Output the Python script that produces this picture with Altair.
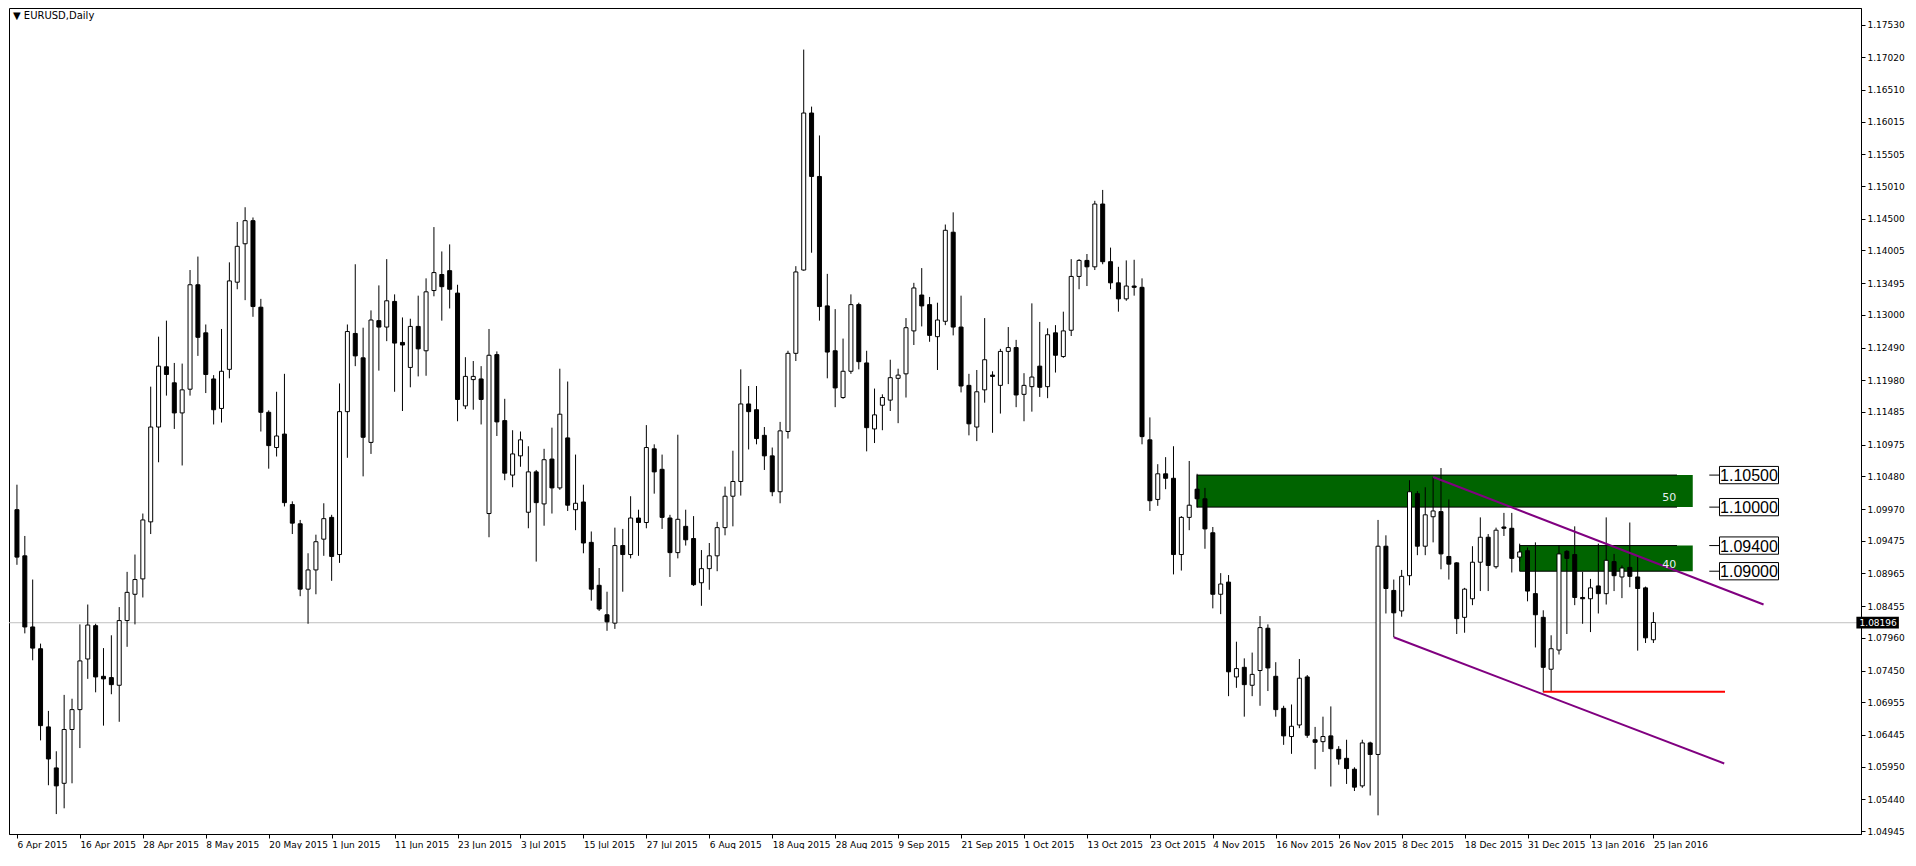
import altair as alt
import pandas as pd

# ---------------- data ----------------
opens = [1.0996, 1.0924, 1.0813, 1.0779, 1.0657, 1.0593, 1.0569, 1.0653, 1.0684, 1.0763,
         1.0815, 1.0736, 1.0734, 1.0722, 1.0823, 1.0864, 1.0888, 1.0977, 1.1125, 1.1219,
         1.1194, 1.1147, 1.1184, 1.1347, 1.1272, 1.1200, 1.1154, 1.1215, 1.1351, 1.1411,
         1.1447, 1.1312, 1.1148, 1.1093, 1.1114, 1.1004, 1.0974, 1.0872, 1.0902, 1.0950,
         1.0984, 1.0926, 1.1149, 1.1271, 1.1233, 1.1101, 1.1291, 1.1281, 1.1321, 1.1257,
         1.1218, 1.1282, 1.1244, 1.1338, 1.1363, 1.1369, 1.1334, 1.1158, 1.1199, 1.1200,
         1.0990, 1.1238, 1.1135, 1.1050, 1.1080, 1.0992, 1.1055, 1.1005, 1.1075, 1.1030,
         1.1108, 1.0996, 1.1008, 1.0945, 1.0878, 1.0832, 1.0819, 1.0940, 1.0926, 1.0983,
         1.0976, 1.1091, 1.1059, 1.0983, 1.0929, 1.0970, 1.0951, 1.0882, 1.0904, 1.0924,
         1.0968, 1.1017, 1.1040, 1.1161, 1.1152, 1.1112, 1.1080, 1.1024, 1.1118, 1.1240,
         1.1370, 1.1615, 1.1516, 1.1314, 1.1244, 1.1171, 1.1212, 1.1316, 1.1225, 1.1122,
         1.1159, 1.1167, 1.1201, 1.1208, 1.1275, 1.1331, 1.1316, 1.1266, 1.1290, 1.1429,
         1.1281, 1.1190, 1.1125, 1.1183, 1.1206, 1.1190, 1.1243, 1.1249, 1.1176, 1.1188,
         1.1220, 1.1188, 1.1272, 1.1235, 1.1276, 1.1360, 1.1385, 1.1375, 1.1473, 1.1383,
         1.1350, 1.1325, 1.1345, 1.1343, 1.1105, 1.1012, 1.1052, 1.1045, 1.0926, 1.0984,
         1.1028, 1.1013, 1.0960, 1.0864, 1.0883, 1.0735, 1.0750, 1.0722, 1.0745, 1.0811,
         1.0736, 1.0686, 1.0642, 1.0660, 1.0735, 1.0637, 1.0634, 1.0643, 1.0622, 1.0608,
         1.0591, 1.0565, 1.0632, 1.0614, 1.0939, 1.0870, 1.0838, 1.0893, 1.1021, 1.0939,
         1.0985, 1.0993, 1.0923, 1.0913, 1.0828, 1.0857, 1.0914, 1.0953, 1.0907, 1.0969,
         1.0967, 1.0922, 1.0932, 1.0865, 1.0828, 1.0747, 1.0777, 1.0931, 1.0926, 1.0859,
         1.0857, 1.0877, 1.0865, 1.0915, 1.0891, 1.0906, 1.0891, 1.0874, 1.0793]

highs = [1.1035, 1.0955, 1.0887, 1.0787, 1.0682, 1.0619, 1.0707, 1.0701, 1.0817, 1.0848,
         1.0818, 1.0780, 1.0800, 1.0844, 1.0899, 1.0926, 1.0990, 1.1188, 1.1266, 1.1291,
         1.1225, 1.1224, 1.1370, 1.1391, 1.1285, 1.1206, 1.1278, 1.1382, 1.1445, 1.1468,
         1.1452, 1.1325, 1.1151, 1.1180, 1.1208, 1.1009, 1.0980, 1.0928, 1.0957, 1.1006,
         1.0988, 1.1193, 1.1285, 1.1379, 1.1280, 1.1307, 1.1346, 1.1387, 1.1332, 1.1296,
         1.1294, 1.1330, 1.1357, 1.1437, 1.1399, 1.1410, 1.1347, 1.1234, 1.1228, 1.1220,
         1.1278, 1.1243, 1.1169, 1.1120, 1.1118, 1.1095, 1.1058, 1.1091, 1.1124, 1.1216,
         1.1196, 1.1082, 1.1035, 1.0962, 1.0905, 1.0868, 1.0968, 1.0966, 1.1017, 1.0996,
         1.1128, 1.1098, 1.1082, 1.0988, 1.1113, 1.0996, 1.0986, 1.0933, 1.0944, 1.0977,
         1.1032, 1.1088, 1.1215, 1.1189, 1.1189, 1.1125, 1.1093, 1.1133, 1.1244, 1.1376,
         1.1714, 1.1625, 1.1580, 1.1364, 1.1309, 1.1263, 1.1332, 1.1319, 1.1244, 1.1185,
         1.1176, 1.1230, 1.1216, 1.1295, 1.1350, 1.1373, 1.1328, 1.1319, 1.1441, 1.1460,
         1.1330, 1.1208, 1.1214, 1.1295, 1.1212, 1.1247, 1.1281, 1.1261, 1.1209, 1.1318,
         1.1289, 1.1279, 1.1284, 1.1305, 1.1387, 1.1387, 1.1395, 1.1478, 1.1495, 1.1405,
         1.1375, 1.1385, 1.1386, 1.1357, 1.1140, 1.1067, 1.1078, 1.1095, 1.0986, 1.1072,
         1.1052, 1.1030, 1.0969, 1.0897, 1.0894, 1.0790, 1.0764, 1.0773, 1.0830, 1.0817,
         1.0758, 1.0690, 1.0692, 1.0763, 1.0738, 1.0657, 1.0673, 1.0689, 1.0627, 1.0637,
         1.0594, 1.0637, 1.0634, 1.0980, 1.0956, 1.0887, 1.0902, 1.1042, 1.1025, 1.1031,
         1.1047, 1.1061, 1.1012, 1.0914, 1.0874, 1.0939, 1.0984, 1.0958, 1.0968, 1.0991,
         1.0991, 1.0943, 1.0937, 1.0945, 1.0839, 1.0800, 1.0940, 1.0933, 1.0970, 1.0899,
         1.0888, 1.0943, 1.0984, 1.0927, 1.0909, 1.0976, 1.0924, 1.0876, 1.0836]

lows = [1.0910, 1.0803, 1.0761, 1.0636, 1.0566, 1.0521, 1.0530, 1.0569, 1.0624, 1.0732,
        1.0711, 1.0659, 1.0708, 1.0665, 1.0782, 1.0817, 1.0859, 1.0958, 1.1070, 1.1174,
        1.1122, 1.1065, 1.1174, 1.1236, 1.1178, 1.1129, 1.1132, 1.1201, 1.1340, 1.1323,
        1.1297, 1.1118, 1.1060, 1.1079, 1.1001, 1.0958, 1.0861, 1.0818, 1.0864, 1.0924,
        1.0885, 1.0913, 1.1077, 1.1220, 1.1048, 1.1083, 1.1213, 1.1259, 1.1180, 1.1150,
        1.1187, 1.1204, 1.1205, 1.1329, 1.1291, 1.1310, 1.1134, 1.1153, 1.1152, 1.1129,
        1.0953, 1.1111, 1.1042, 1.1031, 1.1063, 1.0967, 1.0915, 1.0971, 1.0990, 1.1027,
        1.0994, 1.0964, 1.0928, 1.0854, 1.0838, 1.0807, 1.0810, 1.0868, 1.0920, 1.0924,
        1.0967, 1.1021, 1.0966, 1.0891, 1.0920, 1.0940, 1.0877, 1.0846, 1.0871, 1.0900,
        1.0956, 1.0970, 1.1018, 1.1090, 1.1098, 1.1058, 1.1017, 1.1006, 1.1107, 1.1228,
        1.1369, 1.1397, 1.1291, 1.1201, 1.1156, 1.1169, 1.1208, 1.1215, 1.1087, 1.1100,
        1.1120, 1.1150, 1.1131, 1.1171, 1.1253, 1.1282, 1.1258, 1.1214, 1.1284, 1.1268,
        1.1179, 1.1112, 1.1103, 1.1163, 1.1116, 1.1146, 1.1192, 1.1156, 1.1134, 1.1149,
        1.1172, 1.1170, 1.1210, 1.1233, 1.1267, 1.1340, 1.1345, 1.1370, 1.1379, 1.1340,
        1.1305, 1.1322, 1.1330, 1.1098, 1.0994, 1.1002, 1.1028, 1.0895, 1.0901, 1.0964,
        1.0999, 1.0935, 1.0842, 1.0833, 1.0705, 1.0718, 1.0673, 1.0705, 1.0690, 1.0713,
        1.0673, 1.0629, 1.0615, 1.0655, 1.0640, 1.0591, 1.0618, 1.0564, 1.0598, 1.0568,
        1.0557, 1.0562, 1.0550, 1.0519, 1.0834, 1.0797, 1.0829, 1.0878, 1.0925, 1.0925,
        1.0945, 1.0903, 1.0887, 1.0802, 1.0804, 1.0847, 1.0869, 1.0869, 1.0904, 1.0955,
        1.0898, 1.0915, 1.0853, 1.0781, 1.0711, 1.0712, 1.0770, 1.0802, 1.0847, 1.0818,
        1.0805, 1.0834, 1.0848, 1.0869, 1.0858, 1.0875, 1.0776, 1.0788, 1.0788]

closes = [1.0922, 1.0813, 1.0780, 1.0659, 1.0607, 1.0565, 1.0653, 1.0684, 1.0760, 1.0816,
          1.0735, 1.0732, 1.0723, 1.0823, 1.0867, 1.0887, 1.0980, 1.1125, 1.1220, 1.1207,
          1.1147, 1.1183, 1.1347, 1.1265, 1.1207, 1.1152, 1.1212, 1.1353, 1.1407, 1.1447,
          1.1313, 1.1148, 1.1096, 1.1111, 1.1007, 1.0975, 1.0872, 1.0902, 1.0946, 1.0982,
          1.0923, 1.1149, 1.1274, 1.1236, 1.1109, 1.1292, 1.1281, 1.1322, 1.1256, 1.1253,
          1.1282, 1.1247, 1.1336, 1.1366, 1.1344, 1.1340, 1.1168, 1.1204, 1.1204, 1.1168,
          1.1237, 1.1133, 1.1053, 1.1083, 1.1105, 1.1055, 1.1007, 1.1074, 1.1030, 1.1145,
          1.1003, 1.1006, 1.0944, 1.0872, 1.0841, 1.0821, 1.0940, 1.0926, 1.0983, 1.0976,
          1.1093, 1.1055, 1.0984, 1.0929, 1.0981, 1.0949, 1.0879, 1.0904, 1.0924, 1.0968,
          1.1017, 1.1040, 1.1161, 1.1149, 1.1107, 1.1080, 1.1024, 1.1119, 1.1240, 1.1367,
          1.1615, 1.1516, 1.1313, 1.1242, 1.1186, 1.1212, 1.1316, 1.1227, 1.1124, 1.1144,
          1.1171, 1.1202, 1.1206, 1.1280, 1.1342, 1.1314, 1.1268, 1.1292, 1.1432, 1.1281,
          1.1189, 1.1130, 1.1180, 1.1230, 1.1204, 1.1243, 1.1249, 1.1175, 1.1190, 1.1203,
          1.1187, 1.1269, 1.1237, 1.1275, 1.1360, 1.1385, 1.1375, 1.1473, 1.1383, 1.1350,
          1.1325, 1.1345, 1.1343, 1.1110, 1.1010, 1.1052, 1.1045, 1.0926, 1.0984, 1.1003,
          1.1013, 1.0966, 1.0864, 1.0880, 1.0743, 1.0748, 1.0723, 1.0739, 1.0812, 1.0749,
          1.0684, 1.0643, 1.0658, 1.0733, 1.0644, 1.0633, 1.0642, 1.0623, 1.0607, 1.0592,
          1.0563, 1.0632, 1.0614, 1.0939, 1.0873, 1.0835, 1.0892, 1.1024, 1.0939, 1.0988,
          1.0994, 1.0927, 1.0911, 1.0826, 1.0872, 1.0914, 1.0953, 1.0909, 1.0964, 1.0967,
          1.0920, 1.0930, 1.0869, 1.0832, 1.0750, 1.0779, 1.0927, 1.0920, 1.0859, 1.0857,
          1.0874, 1.0865, 1.0917, 1.0893, 1.0905, 1.0892, 1.0873, 1.0796, 1.0820]

# x-axis: one label every 8 daily bars
date_labels = ["6 Apr 2015", "16 Apr 2015", "28 Apr 2015", "8 May 2015", "20 May 2015",
               "1 Jun 2015", "11 Jun 2015", "23 Jun 2015", "3 Jul 2015", "15 Jul 2015",
               "27 Jul 2015", "6 Aug 2015", "18 Aug 2015", "28 Aug 2015", "9 Sep 2015",
               "21 Sep 2015", "1 Oct 2015", "13 Oct 2015", "23 Oct 2015", "4 Nov 2015",
               "16 Nov 2015", "26 Nov 2015", "8 Dec 2015", "18 Dec 2015", "31 Dec 2015",
               "13 Jan 2016", "25 Jan 2016"]
label_step = 8

# y-axis tick labels (price)
price_ticks = [1.17530, 1.17020, 1.16510, 1.16015, 1.15505, 1.15010, 1.14500, 1.14005,
               1.13495, 1.13000, 1.12490, 1.11980, 1.11485, 1.10975, 1.10480, 1.09970,
               1.09475, 1.08965, 1.08455, 1.07960, 1.07450, 1.06955, 1.06445, 1.05950,
               1.05440, 1.04945]

current_price = 1.08196
chart_title = "\u25BC EURUSD,Daily"

# green supply zones
zone_start = [150, 191]
zone_end = [213, 213]
zone_line_end = [211, 211]
zone_low = [1.1000, 1.0900]
zone_high = [1.1050, 1.0940]
zone_tag = ["50", "40"]
zone_tag_price = [1.1015, 1.0909]
zone_tag_bar = [210, 210]

# price level labels at the right
level_prices = [1.1050, 1.1000, 1.0940, 1.0900]
level_texts = ["1.10500", "1.10000", "1.09400", "1.09000"]

# purple channel lines (bar index, price)
chan_x1 = [175, 180]
chan_y1 = [1.0797, 1.1047]
chan_x2 = [217, 222]
chan_y2 = [1.0600, 1.0848]

# red support line
sup_x1, sup_x2, sup_price = 194, 217.1, 1.0712

# ---------------- build tables ----------------
n = len(opens)
candles = pd.DataFrame({
    "bar": list(range(n)), "o": opens, "h": highs, "l": lows, "c": closes,
})
candles["fillc"] = ["white" if c > o else "black" for o, c in zip(opens, closes)]

zones = pd.DataFrame({"x1": zone_start, "x2": zone_end, "xl": zone_line_end,
                      "lo": zone_low, "hi": zone_high})
zone_tags = pd.DataFrame({"x": zone_tag_bar, "y": zone_tag_price, "t": zone_tag})
levels = pd.DataFrame({"p": level_prices, "t": level_texts})
levels["lo"] = levels["p"] - 0.00135
levels["hi"] = levels["p"] + 0.00135
levels["bx1"] = 216.4
levels["bx2"] = 223.9
levels["tx1"] = 215.1
levels["tc"] = 220.15
chans = pd.DataFrame({"x1": chan_x1, "y1": chan_y1, "x2": chan_x2, "y2": chan_y2})
sup = pd.DataFrame({"x1": [sup_x1], "x2": [sup_x2], "y": [sup_price]})
cur = pd.DataFrame({"y": [current_price], "lo": [current_price - 0.00092],
                    "hi": [current_price + 0.00092], "bx1": [233.8], "bx2": [239.2],
                    "tx": [234.2], "t": [f"{current_price:.5f}"]})
title_df = pd.DataFrame({"t": [chart_title]})

# ---------------- scales & axes ----------------
FONT = "DejaVu Sans"
xscale = alt.Scale(domain=[-0.375, 233.75], nice=False, zero=False)
yscale = alt.Scale(domain=[1.04899, 1.17789], nice=False, zero=False)

label_expr = "".join(
    f"datum.value == {i * label_step} ? '{lab}' : " for i, lab in enumerate(date_labels)
) + "''"

xaxis = alt.Axis(values=[i * label_step for i in range(len(date_labels))],
                 labelExpr=label_expr, labelAlign="left", labelBaseline="top",
                 labelPadding=2, tickSize=4, tickColor="black", domainColor="black",
                 labelColor="black", labelFont=FONT, labelFontSize=9, grid=False,
                 title=None, labelOverlap=False, labelFlush=False, labelOffset=0)
yaxis = alt.Axis(values=price_ticks, format=".5f", orient="right", tickSize=4,
                 tickColor="black", domainColor="black", labelColor="black",
                 labelFont=FONT, labelFontSize=9, grid=False, title=None,
                 labelOverlap=False, labelFlush=False, labelPadding=2)


def X(field):
    return alt.X(field, type="quantitative", scale=xscale, axis=xaxis)


def Y(field):
    return alt.Y(field, type="quantitative", scale=yscale, axis=yaxis)


# ---------------- layers ----------------
zone_rect = alt.Chart(zones).mark_rect(color="#006400").encode(
    x=X("x1"), x2="x2", y=Y("lo"), y2="hi")
zone_top = alt.Chart(zones).mark_rule(color="black", strokeWidth=1).encode(
    x=X("x1"), x2="xl", y=Y("hi"))
zone_bot = alt.Chart(zones).mark_rule(color="black", strokeWidth=1).encode(
    x=X("x1"), x2="xl", y=Y("lo"))
zone_left = alt.Chart(zones).mark_rule(color="black", strokeWidth=1).encode(
    x=X("x1"), y=Y("lo"), y2="hi")

cur_line = alt.Chart(cur).mark_rule(color="#c0c0c0", strokeWidth=1).encode(y=Y("y"))

wicks = alt.Chart(candles).mark_rule(color="black", strokeWidth=1).encode(
    x=X("bar"), y=Y("l"), y2="h")
bodies = alt.Chart(candles).mark_bar(width=4, stroke="black", strokeWidth=1).encode(
    x=X("bar"), y=Y("o"), y2="c", fill=alt.Fill("fillc:N", scale=None))

chan_lines = alt.Chart(chans).mark_rule(color="#800080", strokeWidth=2).encode(
    x=X("x1"), y=Y("y1"), x2="x2", y2="y2")
sup_line = alt.Chart(sup).mark_rule(color="#ff0000", strokeWidth=2).encode(
    x=X("x1"), x2="x2", y=Y("y"))

tags = alt.Chart(zone_tags).mark_text(color="#e6eef2", font=FONT, fontSize=11,
                                      align="center", baseline="middle").encode(
    x=X("x"), y=Y("y"), text="t:N")

lvl_ticks = alt.Chart(levels).mark_rule(color="black", strokeWidth=1).encode(
    x=X("tx1"), x2="bx1", y=Y("p"))
lvl_boxes = alt.Chart(levels).mark_rect(fill="white", stroke="black", strokeWidth=1).encode(
    x=X("bx1"), x2="bx2", y=Y("lo"), y2="hi")
lvl_text = alt.Chart(levels).mark_text(color="black", font="Liberation Sans", fontSize=16,
                                       align="center", baseline="middle", dy=1).encode(
    x=X("tc"), y=Y("p"), text="t:N")

cur_box = alt.Chart(cur).mark_rect(fill="black").encode(
    x=X("bx1"), x2="bx2", y=Y("lo"), y2="hi")
cur_text = alt.Chart(cur).mark_text(color="white", font=FONT, fontSize=9, align="left",
                                    baseline="middle").encode(
    x=X("tx"), y=Y("y"), text="t:N")

title_txt = alt.Chart(title_df).mark_text(color="black", font=FONT, fontSize=10,
                                          align="left", baseline="middle").encode(
    x=alt.value(4), y=alt.value(8), text="t:N")

chart = alt.layer(
    zone_rect, zone_top, zone_bot, zone_left, cur_line, wicks, bodies,
    chan_lines, sup_line, tags, lvl_ticks, lvl_boxes, lvl_text, cur_box, cur_text,
    title_txt,
).properties(
    width=1852, height=826, padding=0, background="white"
).configure_view(
    stroke="black", strokeWidth=1
)

chart.save("out.html", embed_options={"renderer": "svg", "actions": False})
